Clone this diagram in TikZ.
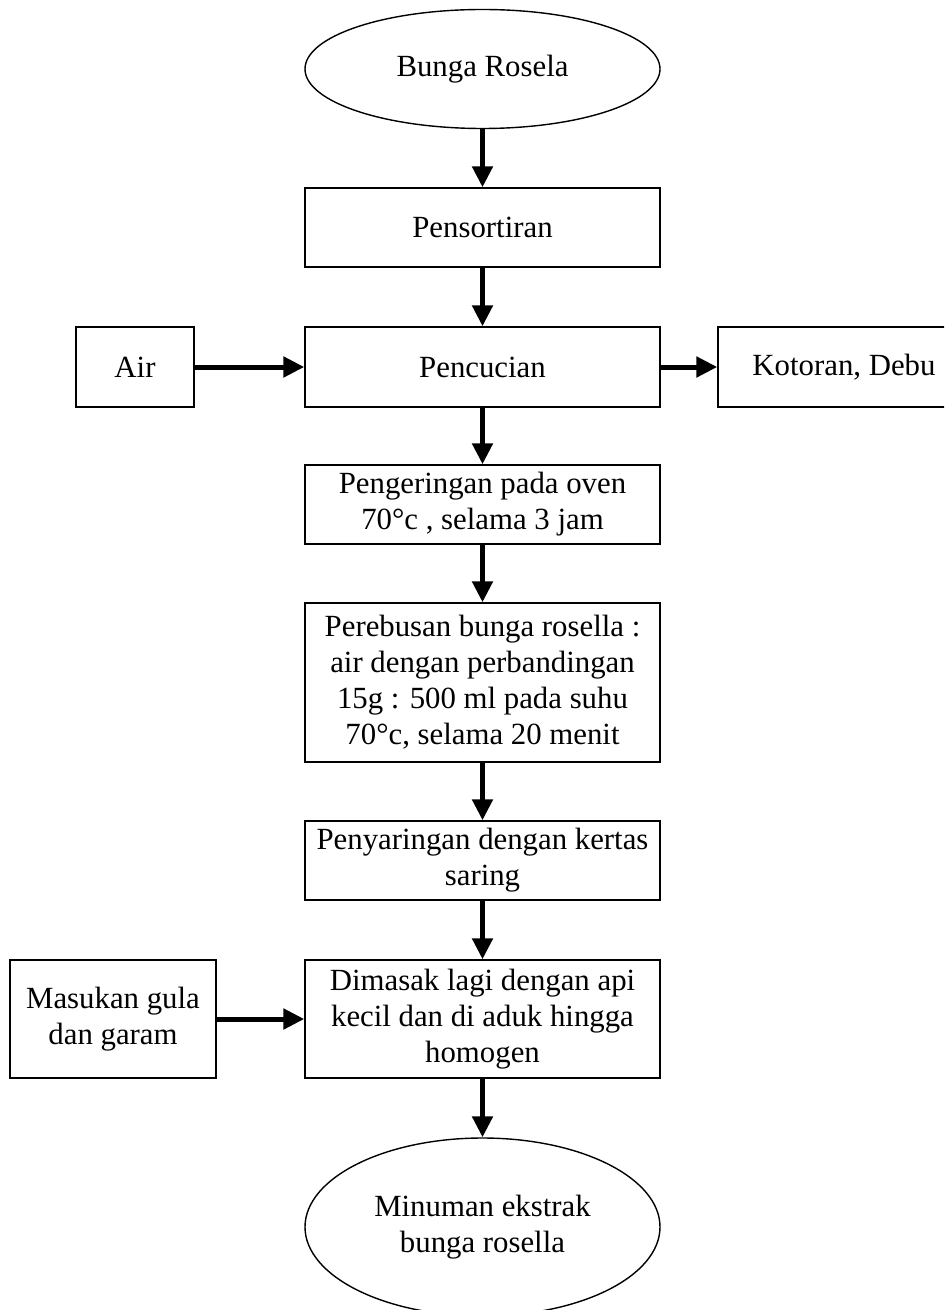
\documentclass[tikz,border=0pt]{standalone}
\usepackage{fontspec}
\setmainfont{Liberation Serif}
\usetikzlibrary{shapes.geometric,arrows.meta}

\begin{document}
\begin{tikzpicture}[x=0.5pt,y=-0.5pt,
  box/.style={draw,line width=0.7pt,align=center,inner sep=2pt,font=\fontsize{15.4}{18}\selectfont},
  oval/.style={box,ellipse,inner sep=0pt,minimum width=177.5pt},
  arr/.style={line width=2.5pt,-{Triangle[length=10.5pt,width=10pt]}}]
  \useasboundingbox (0,0) rectangle (944,1310);
  \clip (0,0) rectangle (944,1310);
  \node[oval,minimum height=59.5pt] (rosela) at (482.5,69) {Bunga Rosela};
  \node[box,minimum width=177.5pt,minimum height=39.5pt] (sortir) at (482.5,227.5) {Pensortiran};
  \node[box,minimum width=177.5pt,minimum height=40pt] (cuci) at (482.5,367) {Pencucian};
  \node[box,minimum width=59pt,minimum height=40pt] (air) at (135,367) {Air};
  \node[box,minimum width=126pt,minimum height=40pt] (kotoran) at (844,367) {Kotoran, Debu};
  \node[box,minimum width=177.5pt,minimum height=39.5pt] (kering) at (482.5,504.5) {Pengeringan pada oven\\70°c , selama 3 jam};
  \node[box,minimum width=177.5pt,minimum height=79.5pt] (rebus) at (482.5,682.5) {Perebusan bunga rosella :\\air dengan perbandingan\\15g : 500 ml pada suhu\\70°c, selama 20 menit};
  \node[box,minimum width=177.5pt,minimum height=39.5pt] (saring) at (482.5,860.5) {Penyaringan dengan kertas\\saring};
  \node[box,minimum width=177.5pt,minimum height=59pt] (masak) at (482.5,1019) {Dimasak lagi dengan api\\kecil dan di aduk hingga\\homogen};
  \node[box,minimum width=103pt,minimum height=59pt] (gula) at (113,1019) {Masukan gula\\dan garam};
  \node[oval,minimum height=89pt] (minum) at (482.5,1227) {Minuman ekstrak\\bunga rosella};
  \draw[arr] (rosela) -- (sortir);
  \draw[arr] (sortir) -- (cuci);
  \draw[arr] (air) -- (cuci);
  \draw[arr] (cuci) -- (kotoran);
  \draw[arr] (cuci) -- (kering);
  \draw[arr] (kering) -- (rebus);
  \draw[arr] (rebus) -- (saring);
  \draw[arr] (saring) -- (masak);
  \draw[arr] (gula) -- (masak);
  \draw[arr] (masak) -- (minum);
\end{tikzpicture}
\end{document}
